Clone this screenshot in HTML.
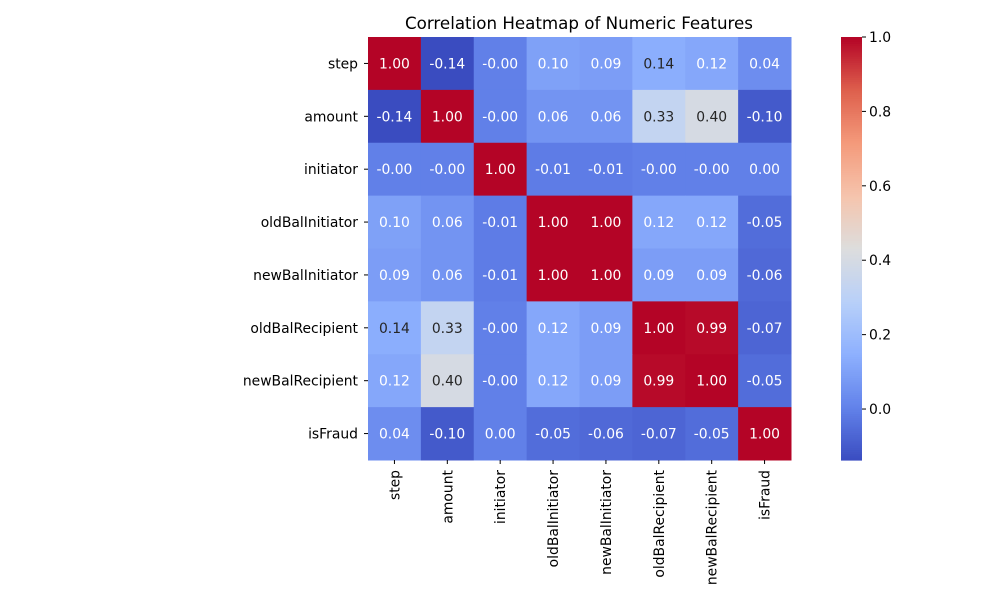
<!DOCTYPE html>
<html><head><meta charset="utf-8"><style>
body{margin:0;background:#fff;}
svg{font-family:"DejaVu Sans","Liberation Sans",sans-serif;}
</style></head><body>
<svg id="chart" width="1000" height="600"></svg>
<script>
const labels=["step","amount","initiator","oldBalInitiator","newBalInitiator","oldBalRecipient","newBalRecipient","isFraud"];
const matrix=[
[1.00,-0.14,-0.00,0.10,0.09,0.14,0.12,0.04],
[-0.14,1.00,-0.00,0.06,0.06,0.33,0.40,-0.10],
[-0.00,-0.00,1.00,-0.01,-0.01,-0.00,-0.00,0.00],
[0.10,0.06,-0.01,1.00,1.00,0.12,0.12,-0.05],
[0.09,0.06,-0.01,1.00,1.00,0.09,0.09,-0.06],
[0.14,0.33,-0.00,0.12,0.09,1.00,0.99,-0.07],
[0.12,0.40,-0.00,0.12,0.09,0.99,1.00,-0.05],
[0.04,-0.10,0.00,-0.05,-0.06,-0.07,-0.05,1.00]];
const cbTicks=[0.0,0.2,0.4,0.6,0.8,1.0];
const vmin=-0.137,vmax=1.0;
const NS="http://www.w3.org/2000/svg";
const svg=document.getElementById('chart');
const X0=368,Y0=37,W=423,H=423,n=labels.length,cw=W/n,ch=H/n,FS=13.9;
const stops=[[0,58,76,192],[0.125,98,130,234],[0.25,141,176,254],[0.375,184,208,249],[0.5,221,221,221],[0.625,245,196,173],[0.75,244,154,123],[0.875,222,96,77],[1,180,4,38]];
function cmap(v){let t=(v-vmin)/(vmax-vmin);t=Math.max(0,Math.min(1,t));
for(let i=1;i<stops.length;i++){if(t<=stops[i][0]){const a=stops[i-1],b=stops[i],f=(t-a[0])/(b[0]-a[0]);
return [1,2,3].map(k=>Math.round(a[k]+(b[k]-a[k])*f));}}return [180,4,38];}
function lum(c){const l=c.map(x=>{x/=255;return x<=0.03928?x/12.92:Math.pow((x+0.055)/1.055,2.4)});return 0.2126*l[0]+0.7152*l[1]+0.0722*l[2];}
function el(tag,attrs,txt){const e=document.createElementNS(NS,tag);for(const k in attrs)e.setAttribute(k,attrs[k]);if(txt!==undefined)e.textContent=txt;svg.appendChild(e);return e;}
const xs=i=>X0+i*cw, ys=j=>Y0+j*ch;
const title=el('text',{x:579,y:29,'text-anchor':'middle','font-size':16.7,fill:'#000'},'Correlation Heatmap of Numeric Features');


for(let r=0;r<n;r++)for(let c=0;c<n;c++){
const v=matrix[r][c],col=cmap(v);
const rect=el('rect',{x:xs(c),y:ys(r),width:cw+0.5,height:ch+0.5,fill:`rgb(${col})`});


const t=el('text',{x:xs(c)+cw/2,y:ys(r)+ch/2+5,'text-anchor':'middle','font-size':FS,fill:lum(col)>0.408?'#262626':'#fff'},(v===0&&Object.is(v,-0)?'-':'')+v.toFixed(2));

}
labels.forEach((l,i)=>{
el('line',{x1:X0-4,x2:X0,y1:ys(i)+ch/2,y2:ys(i)+ch/2,stroke:'#000'});
const yl=el('text',{x:X0-10,y:ys(i)+ch/2+5,'text-anchor':'end','font-size':FS},l);


el('line',{x1:xs(i)+cw/2,x2:xs(i)+cw/2,y1:Y0+H,y2:Y0+H+4,stroke:'#000'});
const cx=xs(i)+cw/2+5,cy=Y0+H+10;
const xl=el('text',{x:cx,y:cy,'text-anchor':'end','font-size':FS,transform:`rotate(-90 ${cx} ${cy})`},l);

});
const CX=841,CW=21,cy=v=>Y0+(vmax-v)/(vmax-vmin)*H;
for(let k=0;k<200;k++){const v0=vmin+(vmax-vmin)*k/200,v1=vmin+(vmax-vmin)*(k+1)/200;
const r=el('rect',{x:CX,y:cy(v1),width:CW,height:cy(v0)-cy(v1)+0.6,fill:`rgb(${cmap((v0+v1)/2)})`});

}
cbTicks.forEach(v=>{el('line',{x1:CX+CW,x2:CX+CW+4,y1:cy(v),y2:cy(v),stroke:'#000'});
const t=el('text',{x:CX+CW+7,y:cy(v)+5,'font-size':FS},v.toFixed(1));

});
</script>
</body></html>
